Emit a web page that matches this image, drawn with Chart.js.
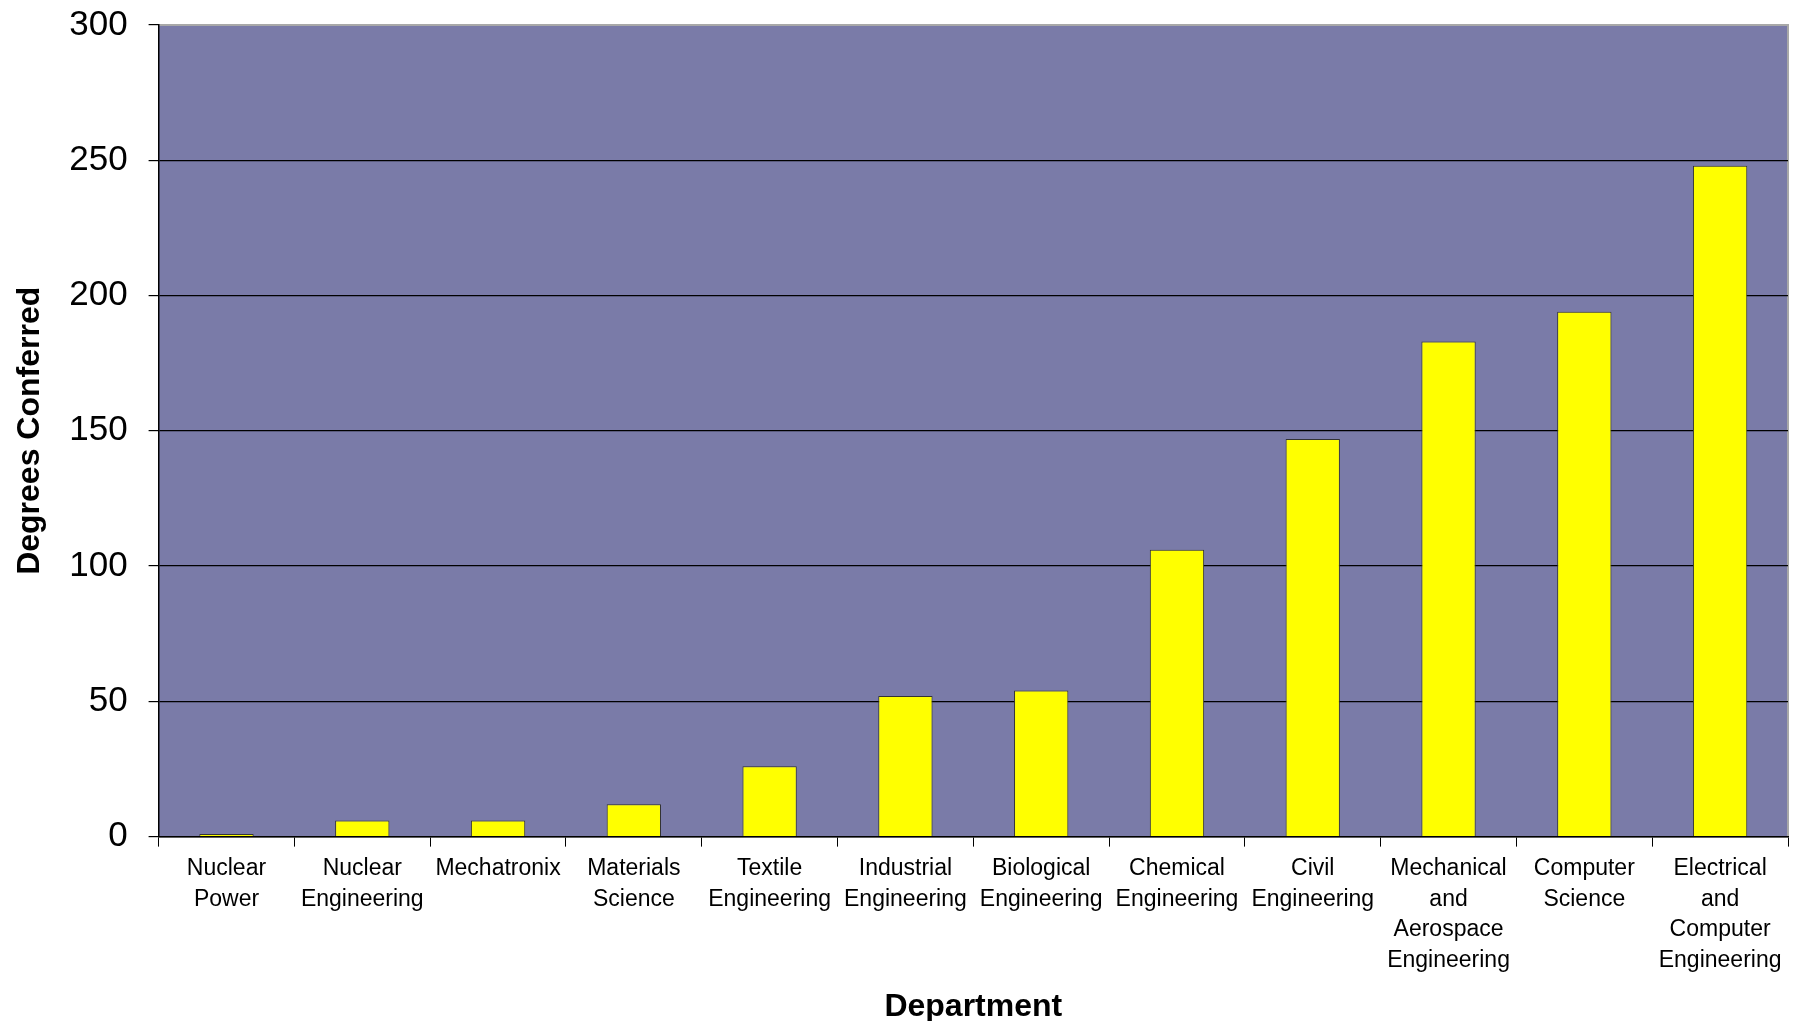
<!DOCTYPE html>
<html>
<head>
<meta charset="utf-8">
<script src="https://cdn.jsdelivr.net/npm/chart.js@4"></script>
<style>
  html, body { margin: 0; padding: 0; background: #fff; }
  #chart { display: block; }
</style>
</head>
<body>
<canvas id="chart" width="1795" height="1021"></canvas>
<script>
const departments = [
  ['Nuclear', 'Power'],
  ['Nuclear', 'Engineering'],
  'Mechatronix',
  ['Materials', 'Science'],
  ['Textile', 'Engineering'],
  ['Industrial', 'Engineering'],
  ['Biological', 'Engineering'],
  ['Chemical', 'Engineering'],
  ['Civil', 'Engineering'],
  ['Mechanical', 'and', 'Aerospace', 'Engineering'],
  ['Computer', 'Science'],
  ['Electrical', 'and', 'Computer', 'Engineering'],
];
const degreesConferred = [1, 6, 6, 12, 26, 52, 54, 106, 147, 183, 194, 248];
const yMin = 0;
const yMax = 300;
const yStep = 50;

Chart.defaults.font.family = '"Liberation Sans", Arial, sans-serif';
Chart.defaults.color = '#000';

// fill the plot area and draw its light border like the original
const plotBackground = {
  id: 'plotBackground',
  beforeDraw(chart) {
    const { ctx, chartArea: a } = chart;
    ctx.save();
    ctx.fillStyle = '#7a7ba8';
    ctx.fillRect(a.left, a.top, a.right - a.left, a.bottom - a.top);
    ctx.strokeStyle = '#a8a8a8';
    ctx.lineWidth = 2;
    ctx.beginPath();
    ctx.moveTo(a.left, a.top);
    ctx.lineTo(a.right, a.top);
    ctx.lineTo(a.right, a.bottom);
    ctx.stroke();
    ctx.restore();
  },
};

new Chart(document.getElementById('chart'), {
  type: 'bar',
  data: {
    labels: departments,
    datasets: [{
      data: degreesConferred,
      backgroundColor: '#ffff00',
      borderColor: '#333333',
      borderWidth: 1,
      barPercentage: 0.4,
      categoryPercentage: 1,
    }],
  },
  options: {
    responsive: false,
    animation: false,
    devicePixelRatio: 1,
    layout: { padding: { top: 25, right: 7, left: 0, bottom: 0 } },
    plugins: {
      legend: { display: false },
      tooltip: { enabled: false },
    },
    scales: {
      x: {
        grid: {
          offset: true,
          drawOnChartArea: false,
          color: '#000',
          tickLength: 10,
        },
        border: { color: '#000', width: 1.5 },
        ticks: {
          color: '#000',
          font: { size: 23, lineHeight: 1.33 },
          padding: 7,
          maxRotation: 0,
          autoSkip: false,
        },
        title: {
          display: true,
          text: 'Department',
          color: '#000',
          font: { size: 32, weight: 'bold', lineHeight: 1.0 },
          padding: { top: 8, bottom: -2 },
        },
      },
      y: {
        min: yMin,
        max: yMax,
        afterFit: (scale) => { scale.paddingTop = 0; },
        ticks: {
          stepSize: yStep,
          color: '#000',
          font: { size: 35 },
          padding: 21,
        },
        grid: {
          color: (c) => (c.tick && c.tick.value === yMax ? '#a8a8a8' : '#000'),
          tickColor: '#000',
          lineWidth: 1.2,
          tickLength: 10,
        },
        border: { color: '#000', width: 1.5 },
        title: {
          display: true,
          text: 'Degrees Conferred',
          color: '#000',
          font: { size: 32, weight: 'bold', lineHeight: 1.1 },
          padding: { top: 13, bottom: 0 },
        },
      },
    },
  },
  plugins: [plotBackground],
});
</script>
</body>
</html>
